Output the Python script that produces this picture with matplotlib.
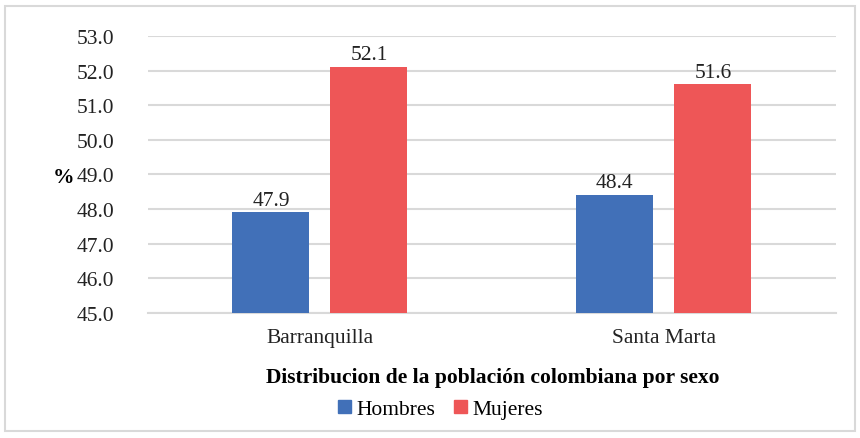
import matplotlib
matplotlib.use("Agg")
import matplotlib.pyplot as plt
from matplotlib.patches import Rectangle, Patch
from matplotlib.font_manager import FontProperties
import numpy as np

SERIF = "Liberation Serif"
plt.rcParams['font.family'] = SERIF

cities = ["Barranquilla", "Santa Marta"]
hombres = [47.9, 48.4]
mujeres = [52.1, 51.6]
yticks = [45.0, 46.0, 47.0, 48.0, 49.0, 50.0, 51.0, 52.0, 53.0]

blue = "#4170B8"
red = "#EE5657"
grid = "#d9d9d9"
fs = 15.5
txt = "#222222"

fig = plt.figure(figsize=(8.6, 4.39), dpi=100)
ax = fig.add_axes([0.172, 0.285, 0.8, 0.631])

x = np.arange(len(cities))
w = 0.224
off = 0.1425
b1 = ax.bar(x - off, hombres, w, bottom=0, color=blue, zorder=3)
b2 = ax.bar(x + off, mujeres, w, bottom=0, color=red, zorder=3)

# value labels above each bar
for bars, vals in ((b1, hombres), (b2, mujeres)):
    for rect, v in zip(bars, vals):
        ax.text(rect.get_x() + rect.get_width() / 2, v + 0.08, f"{v:.1f}",
                ha="center", va="bottom", fontsize=fs, color=txt, family=SERIF)

ax.set_ylim(45, 53)
ax.set_xlim(-0.5, 1.5)
ax.set_yticks(yticks)
ax.set_yticklabels([f"{t:.1f}" for t in yticks], family=SERIF, fontsize=fs, color=txt)
ax.set_xticks(x)
ax.set_xticklabels(cities, family=SERIF, fontsize=fs, color=txt)
ax.tick_params(axis="both", length=0)
ax.tick_params(axis="y", pad=24)
ax.tick_params(axis="x", pad=11)
ax.yaxis.grid(True, color=grid, linewidth=1.5, zorder=0)
for s in ("top", "right", "left"):
    ax.spines[s].set_visible(False)
ax.spines["bottom"].set_color(grid)
ax.spines["bottom"].set_linewidth(1.5)

ax.set_ylabel("%", rotation=0, fontsize=fs, fontweight="bold", va="center", family=SERIF)
ax.yaxis.set_label_coords(-0.122, 0.49)

fig.text(0.573, 0.14, "Distribucion de la población colombiana por sexo",
         ha="center", va="center", fontsize=fs, fontweight="bold", family=SERIF)

handles = [Patch(color=blue, label="Hombres"), Patch(color=red, label="Mujeres")]
fig.legend(handles=handles, loc="center", bbox_to_anchor=(0.512, 0.065), ncol=2,
           frameon=False, prop=FontProperties(family=SERIF, size=fs),
           handlelength=0.6, handleheight=0.6, handletextpad=0.25, columnspacing=0.9)

# light frame around the whole figure
fig.patches.append(Rectangle((0.006, 0.016), 0.988, 0.968, transform=fig.transFigure,
                             fill=False, edgecolor=grid, linewidth=1.5))

fig.savefig("out.png", dpi=100, facecolor="white")
